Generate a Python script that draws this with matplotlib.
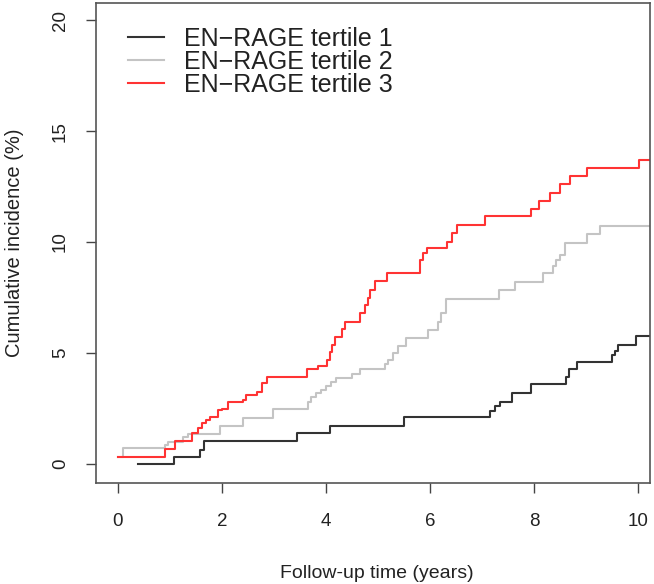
import matplotlib
matplotlib.use("Agg")
import matplotlib.pyplot as plt

plt.rcParams['font.family'] = ['Liberation Sans', 'DejaVu Sans']

# ---- data ----
t1_time = [0.38, 1.08, 1.58, 1.65, 3.45, 4.08, 5.49, 7.15, 7.25, 7.35, 7.57, 7.95,
           8.62, 8.68, 8.82, 9.49, 9.55, 9.62, 9.96, 10.23]
t1_inc = [0.0, 0.3, 0.63, 1.02, 1.38, 1.72, 2.13, 2.4, 2.6, 2.8, 3.18, 3.6,
          3.9, 4.26, 4.6, 4.9, 5.1, 5.36, 5.78, 5.78]

t2_time = [0.0, 0.1, 0.9, 0.96, 1.25, 1.35, 1.96, 2.4, 2.98, 3.66, 3.72, 3.8, 3.9,
           4.0, 4.1, 4.2, 4.5, 4.65, 5.13, 5.2, 5.28, 5.39, 5.54, 5.97, 6.16, 6.22,
           6.3, 7.33, 7.63, 8.18, 8.36, 8.42, 8.5, 8.6, 9.02, 9.26, 10.23]
t2_inc = [0.3, 0.7, 0.85, 1.0, 1.2, 1.37, 1.7, 2.08, 2.47, 2.8, 3.03, 3.18, 3.35,
          3.5, 3.7, 3.86, 4.05, 4.28, 4.5, 4.7, 5.0, 5.3, 5.69, 6.04, 6.4, 6.8,
          7.43, 7.84, 8.21, 8.59, 8.9, 9.19, 9.4, 9.96, 10.36, 10.72, 10.72]

t3_time = [0.0, 0.9, 1.1, 1.42, 1.54, 1.62, 1.7, 1.77, 1.93, 2.0, 2.12, 2.41, 2.47,
           2.67, 2.76, 2.86, 3.64, 3.85, 4.01, 4.08, 4.12, 4.17, 4.3, 4.37, 4.65,
           4.75, 4.8, 4.85, 4.94, 5.17, 5.8, 5.87, 5.94, 6.32, 6.42, 6.51, 7.06,
           7.95, 8.1, 8.31, 8.5, 8.69, 9.01, 10.02, 10.23]
t3_inc = [0.3, 0.66, 1.05, 1.41, 1.6, 1.83, 1.98, 2.13, 2.43, 2.5, 2.8, 2.88, 3.1,
          3.26, 3.63, 3.93, 4.28, 4.42, 4.68, 5.06, 5.35, 5.7, 6.1, 6.41, 6.79,
          7.16, 7.5, 7.84, 8.26, 8.62, 9.2, 9.5, 9.72, 10.0, 10.4, 10.77, 11.17,
          11.5, 11.86, 12.22, 12.6, 12.97, 13.32, 13.69, 13.69]

labels = ["EN\u2212RAGE tertile 1", "EN\u2212RAGE tertile 2", "EN\u2212RAGE tertile 3"]
colors = ["#333333", "#c4c4c4", "#ff3333"]
x_ticks = [0, 2, 4, 6, 8, 10]
y_ticks = [0, 5, 10, 15, 20]

# ---- figure ----
fig = plt.figure(figsize=(6.54, 5.84), dpi=100)
ax = fig.add_axes([96/654, 1 - 483/584, (650 - 96)/654, 480/584])

for tt, yy, c, lab in zip([t1_time, t2_time, t3_time], [t1_inc, t2_inc, t3_inc], colors, labels):
    ax.step(tt, yy, where='post', color=c, lw=1.5, label=lab)

ax.set_xlim(-0.423, 10.23)
ax.set_ylim(-0.856, 20.77)

ax.set_xticks(x_ticks)
ax.set_xticklabels([str(v) for v in x_ticks])
ax.set_yticks(y_ticks)
ax.set_yticklabels([str(v) for v in y_ticks], rotation=90, va='center')

ax.tick_params(axis='both', direction='out', length=7.5, width=1.0, color='#444444',
               labelsize=13.5, labelcolor='#222222')
ax.tick_params(axis='x', pad=14)
ax.tick_params(axis='y', pad=12)

for s in ax.spines.values():
    s.set_color('#555555')
    s.set_linewidth(1.2)

ax.set_xlabel("Follow-up time (years)", fontsize=14, color='#222222')
ax.set_ylabel("Cumulative incidence (%)", fontsize=14.5, color='#222222')
ax.xaxis.set_label_coords((377 - 96)/554, (483 - 565)/480)
ax.yaxis.set_label_coords((24 - 96)/554, 0.5)

leg = ax.legend(loc='upper left', bbox_to_anchor=((128 - 96)/554, (483 - 27)/480),
                frameon=False, fontsize=18, handlelength=1.45, handletextpad=0.8,
                labelspacing=-0.04, borderaxespad=0, borderpad=0)
for txt in leg.get_texts():
    txt.set_color('#222222')

fig.savefig("out.png", dpi=100)
